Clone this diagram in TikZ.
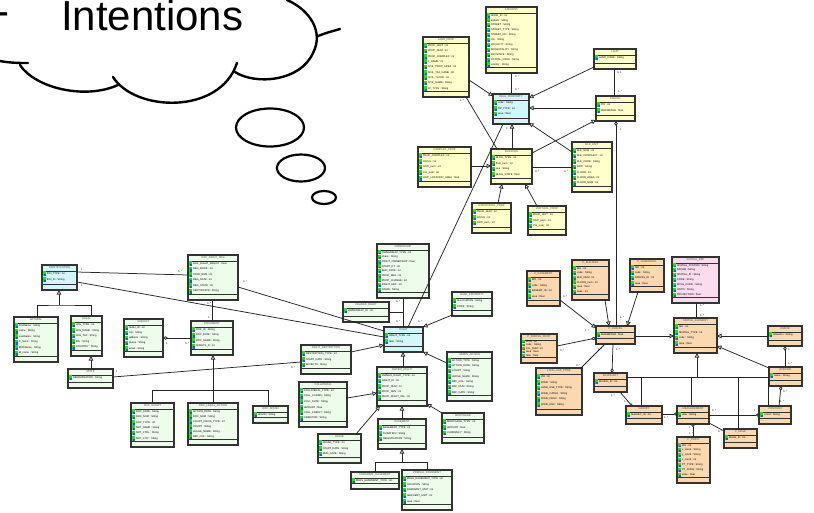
\documentclass[tikz,border=0pt]{standalone}
\usepackage{fontspec}
\setmainfont{Liberation Sans}
\usetikzlibrary{arrows.meta}

\definecolor{ylw}{HTML}{FFFFCC}
\definecolor{cyn}{HTML}{D2F6FA}
\definecolor{grn}{HTML}{EEFCEC}
\definecolor{org}{HTML}{FCD8B0}
\definecolor{pnk}{HTML}{FADCEE}
\definecolor{icongrn}{HTML}{22DD22}
\definecolor{iconblu}{HTML}{2255EE}
\definecolor{edge}{HTML}{333333}

\tikzset{
  umlframe/.style={draw=edge, line width=1.1pt, anchor=north west, inner sep=0pt, outer sep=0pt},
  umlsep/.style={draw=edge, line width=0.8pt},
  umltitle/.style={font=\fontsize{2.7}{3}\selectfont, text=black!70, inner sep=0pt},
  umlattr/.style={font=\fontsize{2.6}{3}\selectfont, anchor=west, inner sep=0pt},
  link/.style={draw=black!85, line width=0.75pt},
  gen/.style={link, -{Triangle[length=4.5pt,width=4.5pt,fill=white]}},
  agg/.style={link, {Diamond[length=5pt,width=3.4pt,fill=white]}-},
  aggend/.style={link, -{Diamond[length=5pt,width=3.4pt,fill=white]}},
  circend/.style={link, -{Circle[length=3pt,fill=white]}},
  circstart/.style={link, {Circle[length=3pt,fill=white]}-},
  mult/.style={font=\fontsize{2.6}{3}\selectfont, inner sep=0pt, anchor=west},
  cloudline/.style={line width=2.4pt, line cap=round},
}

% class box: name, fill, x1, y1, x2, y2, rows, title, attributes
\newcommand\umlbox[9]{%
  \pgfmathsetmacro\bw{#5-#3}%
  \pgfmathsetmacro\bh{#6-#4}%
  \node[umlframe, fill=#2, minimum width=\bw pt, minimum height=\bh pt] (#1) at (#3,#4) {};
  \draw[umlsep] (#3,#4+6) -- (#5,#4+6);
  \draw[umlsep] (#3,#6-6) -- (#5,#6-6);
  \node[umltitle] (#1-t) at ({(#3+#5)/2},#4+3) {#8};
  \pgfmathsetmacro\rh{min((#6-#4-12)/#7,5.6)}%
  \foreach \att [count=\k] in {#9} {
    \pgfmathsetmacro\ry{#4+6+(\k-0.5)*\rh}
    \fill[icongrn] (#3+0.9,\ry-\rh/2+0.4) rectangle (#3+4,\ry+\rh/2-0.4);
    \fill[iconblu] (#3+2.4,\ry+0.2) rectangle (#3+4,\ry+\rh/2-0.4);
    \node[umlattr] (#1-a\k) at (#3+4.8,\ry) {\att};
  }
}

\begin{document}
\begin{tikzpicture}[x=1pt,y=-1pt]
\useasboundingbox (0,0) rectangle (814,512);
\fill[white] (0,0) rectangle (814,512);

% ---------- thought cloud ----------
\draw[cloudline] (0,61) .. controls (10,63) and (20,63) .. (28,63);
\draw[cloudline] (20,65) .. controls (35,88) and (85,100) .. (118,85);
\draw[cloudline] (113,77) .. controls (135,112) and (220,115) .. (237,63);
\draw[cloudline] (235,72) .. controls (255,85) and (300,82) .. (313,53) .. controls (324,32) and (310,10) .. (287,0);
\draw[cloudline] (318,36) .. controls (326,33) .. (340,29);
\draw[line width=2.2pt] (270,127.5) ellipse [x radius=34pt, y radius=19pt];
\draw[line width=2.2pt] (301,168) ellipse [x radius=24pt, y radius=13.5pt];
\draw[line width=2.2pt] (324,197.5) ellipse [x radius=12pt, y radius=6.5pt];
\node[anchor=base west, inner sep=0pt, font=\fontsize{42}{50}\selectfont] (intentions) at (61,30) {Intentions};
\node[anchor=base east, inner sep=0pt, font=\fontsize{42}{50}\selectfont] (dash) at (10,25) {-};

% ---------- property classes ----------
\umlbox{landprop}{ylw}{423}{37}{469}{97}{9}{LAND\_PROP}{PROP\_nEXT : int, PROP\_NUM : int, PROP\_COMPLEX : int, L\_NAME : int, SOIL\_PROP\_AREA : int, SOIL\_TAX\_NAME : int, SOIL\_TxCOD : int, SOIL\_NAME : String, LP\_TYPE : String}
\umlbox{address}{ylw}{486}{7}{537}{73}{11}{ADDRESS}{ADDR\_ID : int, suburb : String, STREET : String, STREET\_TYPE : String, STREET\_NO : String, city : String, LOCALITY : String, MUNICIPALITY : String, PROVINCE : String, POSTAL\_CODE : String, country : String}
\umlbox{realprop}{cyn}{493}{94}{529}{124}{3}{REAL\_PROPERTY}{code : String, RP\_TYPE : int, area : float}
\umlbox{land}{ylw}{594}{49}{636}{69}{1}{LAND}{LAND\_CODE : String}
\umlbox{parcel}{ylw}{596}{96}{635}{121}{2}{PARCEL}{PID : int, PERIMETER : float}
\umlbox{complexprop}{ylw}{418}{147}{471}{187}{5}{COMPLEX\_PROP}{PROP\_COMPLEX : int, LOCAL : int, UNIT\_num : int, LVL\_num : int, UNIT\_LOCATION\_AREA : float}
\umlbox{building}{ylw}{491}{149}{532}{184}{4}{BUILDING}{BLDG\_TYPE : int, floor\_num : int, use : String, BLDG\_STATE : float}
\umlbox{bldunit}{ylw}{572}{142}{612}{192}{7}{BLD\_UNIT}{ELE\_NUM : int, ELE\_CONTRACT : int, ELE\_CODE : String, UNIT : String, FLOOR : int, FLOOR\_AREA : int, FLOOR\_NUM : int}
\umlbox{horizprop}{ylw}{472}{203}{511}{233}{3}{HORIZONTAL\_PROP}{PROP\_NUM : int, LOCAL : int, UNIT\_num : int}
\umlbox{vertprop}{ylw}{528}{206}{566}{235}{3}{VERTICAL\_PROP}{PROP\_UNIT : int, UNIT\_num : int, LVL\_num : int}

% ---------- subjects and documents ----------
\umlbox{ident}{cyn}{42}{265}{77}{290}{2}{IDENTIFICATION}{IDN\_TYPE : int, IDN\_ID : String}
\umlbox{natural}{grn}{14}{317}{58}{362}{6}{NATURAL}{FirstName : String, name : String, LastName : String, F\_name : String, MothName : String, M\_name : String}
\umlbox{legal}{grn}{71}{316}{102}{356}{5}{LEGAL}{LEG\_TYPE : int, LEG\_NAME : String, LEG\_TAX : String, title : String, COUNTRY : String}
\umlbox{subject}{grn}{124}{319}{163}{357}{5}{SUBJECT}{SUBJ\_ID : int, city : String, address : String, phone : String, email : String}
\umlbox{state}{grn}{68}{369}{113}{388}{1}{STATE}{DENOMINATION : String}
\umlbox{docreg}{grn}{188}{255}{238}{300}{6}{DOC\_RIGHT\_REG}{DOC\_RIGHT\_REGIST : float, REG\_BOOK : int, PAGE\_NUM : int, REG\_DATE : int, REG\_STATE : int, CERTIFICATE : String}
\umlbox{document}{grn}{191}{321}{233}{355}{4}{DOCUMENT}{DOC\_ID : String, DOC\_DATE : String, DOC\_NAME : String, SHEETS\_N : int}
\umlbox{docscript}{grn}{131}{403}{174}{447}{6}{DOC\_SCRIPT}{DOC\_DATE : String, DOC\_NUM : String, DOC\_TYPE : int, NOT\_NAME : String, NOT\_CTRL : String, NOT\_CITY : String}
\umlbox{doclegal}{grn}{188}{403}{238}{445}{6}{DOC\_LEGAL\_ACTION}{ACTION\_DATE : String, DOC\_NUM : String, COURT\_DECIS\_TYPE : int, COURT : String, JUDGE\_NAME : String, REF\_COL : String}
\umlbox{docadmin}{grn}{253}{406}{288}{423}{1}{DOC\_ADMIN}{ADMIN : String}

% ---------- rights ----------
\umlbox{ownership}{grn}{377}{244}{429}{298}{9}{OWNERSHIP}{OWNERSHIP\_TYPE : int, share : String, RIGHT\_OWNERSHIP : float, START\_DT : int, END\_DATE : int, PROP\_REG : int, PROP\_CHANGE : int, RIGHT\_REF : int, STATE : String}
\umlbox{changeright}{grn}{343}{302}{389}{322}{1}{CHANGE\_RIGHT}{OWNERSHIP\_ID : int}
\umlbox{baseprop}{grn}{452}{292}{492}{316}{2}{BASE\_PROPERTY}{ALLOCATION : String, CODE : String}
\umlbox{rgt}{cyn}{384}{327}{423}{352}{2}{RIGHT}{RIGHT\_TYPE : int, ratio : String}
\umlbox{restriction}{grn}{301}{345}{351}{374}{3}{RIGHT\_RESTRICTION}{RESTRICTION\_TYPE : int, START\_DATE : String, EFFECTS : String}
\umlbox{ownerright}{grn}{377}{367}{427}{406}{5}{OWNER\_RIGHT}{OWNER\_RIGHT\_TYPE : int, RIGHT\_ID : int, PROP\_NUM : int, PROP\_DEN : int, PROP\_RIGHT\_VAL : int}
\umlbox{adminaction}{grn}{447}{352}{492}{401}{7}{ADMIN\_ACTION}{ACTION\_TYPE : String, ACTION\_DATE : String, COURT : String, JUDGE\_NAME : String, REF\_COL : String, REF\_NUM : String, REF\_DATE : String}
\umlbox{collateral}{grn}{299}{382}{347}{427}{6}{COLLATERAL}{COLLATERAL\_TYPE : int, COLL\_CLAIMS : String, COLL\_DATE : String, AMOUNT : float, COLL\_CREDIT : String, CREDITOR : String}
\umlbox{lease}{grn}{318}{434}{361}{463}{3}{LEASE}{LEASE\_TYPE : int, START\_DATE : String, END\_DATE : String}
\umlbox{easement}{grn}{378}{419}{426}{449}{3}{EASEMENT}{EASEMENT\_TYPE : int, DURATION : String, REGISTRATION : String}
\umlbox{mortgage}{grn}{442}{413}{484}{443}{3}{MORTGAGE}{MORTGAGE\_TYPE : int, AMOUNT : float, CURRENCY : String}
\umlbox{perseasement}{grn}{351}{472}{399}{489}{1}{PERSONAL\_EASEMENT}{PERS\_EASEMENT\_TYPE : int}
\umlbox{predeasement}{grn}{402}{470}{452}{510}{5}{PREDIAL\_EASEMENT}{PRED\_EASEMENT\_TYPE : int, LOCATION : String, DOMINANT\_UNIT : int, SERVIENT\_UNIT : int, area : float}

% ---------- spatial classes ----------
\umlbox{peasement}{org}{527}{271}{560}{306}{4}{P\_EASEMENT}{EID : int, code : String, EASEMT\_ID : int, area : float}
\umlbox{pbuilding}{org}{572}{260}{609}{300}{6}{P\_BUILDING}{BID : int, code : String, BLD\_NUM : int, FLOOR\_num : int, area : float, state : int}
\umlbox{psubparcel}{org}{630}{259}{664}{292}{4}{P\_SUBPARCEL}{SID : int, code : String, PARCEL\_ID : int, area : float}
\umlbox{pparcel}{org}{596}{326}{635}{344}{1}{P\_PARCEL}{PERIMETER : float}
\umlbox{pparcelprop}{org}{521}{334}{557}{363}{5}{P\_PARCEL\_PROP}{PPID : int, code : String, LVL\_NUM : int, area : float, ratio : float}
\umlbox{landuse}{org}{536}{368}{582}{415}{6}{LAND\_USE\_ZONE}{ZID : int, ZONE : String, LAND\_USE\_TYPE : String, ZONE\_CATEG : String, ZONE\_DESC : String, ZONE\_REF : String}
\umlbox{boundary}{org}{594}{373}{627}{392}{1}{BOUNDARY}{BOUND\_ID : int}
\umlbox{spatialref}{pnk}{672}{257}{719}{303}{7}{SPATIAL\_REF}{SPATIAL\_SYSTEM : String, DATUM : String, SPATIAL\_ID : String, CODE : String, EPSG\_CODE : String, UNITS : String, PROJECTION : float}
\umlbox{spatialel}{org}{674}{318}{717}{353}{4}{SPATIAL\_ELEMENT}{SID : int, SPATIAL\_TYPE : int, code : String, area : float}
\umlbox{curve}{org}{768}{326}{802}{346}{1}{CURVE}{LENGTH : String}
\umlbox{border}{org}{769}{367}{802}{386}{1}{BORDER}{name : String}
\umlbox{survey}{org}{626}{406}{662}{424}{1}{SURVEY}{SURVEY\_ID : int}
\umlbox{measurement}{org}{677}{406}{709}{424}{1}{MEASUREMENT}{date : String}
\umlbox{position}{org}{759}{406}{791}{424}{1}{POSITION}{coord : String}
\umlbox{pedge}{org}{724}{429}{757}{448}{1}{P\_EDGE}{EDGE\_ID : int}
\umlbox{ppoint}{org}{677}{437}{710}{483}{7}{P\_POINT}{PID : int, x\_coord : String, y\_coord : String, z\_coord : int, PT\_TYPE : String, PT\_CODE : String, state : float}

% ---------- connectors: properties ----------
\draw[link] ([shift={(25,66)}]address.north west) -- ([shift={(18,0)}]realprop.north west);
\draw[gen] ([shift={(46,43)}]landprop.north west) -- ([shift={(0,2)}]realprop.north west);
\draw[gen] ([shift={(0,18)}]land.north west) -- ([shift={(36,4)}]realprop.north west);
\draw[gen] ([shift={(0,12)}]parcel.north west) -- ([shift={(36,14)}]realprop.north west);
\draw[link] ([shift={(20,20)}]land.north west) -- ([shift={(18,0)}]parcel.north west);
\draw[gen] ([shift={(21,0)}]building.north west) -- ([shift={(19,30)}]realprop.north west);
\draw[link] ([shift={(43,60)}]landprop.north west) -- ([shift={(6,0)}]building.north west);
\draw[gen] ([shift={(0,10)}]bldunit.north west) -- ([shift={(36,29)}]realprop.north west);
\draw[gen] ([shift={(41,4)}]building.north west) -- ([shift={(0,24)}]parcel.north west);
\draw[link] ([shift={(41,18)}]building.north west) -- ([shift={(0,25)}]bldunit.north west);
\draw[gen] ([shift={(53,19)}]complexprop.north west) -- ([shift={(0,17)}]building.north west);
\draw[gen] ([shift={(26,0)}]horizprop.north west) -- ([shift={(11,35)}]building.north west);
\draw[gen] ([shift={(9,0)}]vertprop.north west) -- ([shift={(34,35)}]building.north west);
\draw[link] ([shift={(10,30)}]realprop.north west) -- ([shift={(24,0)}]rgt.north west);
\draw[agg] ([shift={(20,25)}]parcel.north west) -- ([shift={(20,0)}]pparcel.north west);

% ---------- connectors: subjects and documents ----------
\coordinate (idjoin) at (59,305);
\draw[link] ([shift={(23,0)}]natural.north west) |- (idjoin) -| ([shift={(20,0)}]legal.north west);
\draw[gen] (idjoin) -- ([shift={(17,25)}]ident.north west);
\draw[gen] ([shift={(23,0)}]state.north west) -- ([shift={(20,40)}]legal.north west);
\draw[link] ([shift={(35,7)}]ident.north west) -- ([shift={(0,20)}]docreg.north west);
\draw[link] ([shift={(35,17)}]ident.north west) -- ([shift={(0,10)}]rgt.north west);
\draw[link] ([shift={(50,32)}]docreg.north west) -- ([shift={(0,4)}]rgt.north west);
\draw[link] ([shift={(45,8)}]state.north west) -- ([shift={(0,17)}]restriction.north west);
\draw[agg] ([shift={(39,19)}]subject.north west) -- ([shift={(0,17)}]document.north west);
\draw[link] ([shift={(24,45)}]docreg.north west) -- ([shift={(21,0)}]document.north west);
\coordinate (docjoin) at (213,390);
\draw[gen] (docjoin) -- ([shift={(22,34)}]document.north west);
\draw[link] ([shift={(21,0)}]docscript.north west) |- ([shift={(15,-16)}]docadmin.north west) -- ([shift={(15,0)}]docadmin.north west);
\draw[link] ([shift={(25,0)}]doclegal.north west) -- (docjoin);

% ---------- connectors: rights ----------
\draw[link] ([shift={(26,54)}]ownership.north west) -- ([shift={(19,0)}]rgt.north west);
\draw[link] (changeright.east) -- (changeright.east -| ownership.south);
\draw[gen] ([shift={(0,23)}]baseprop.north west) -- ([shift={(39,0)}]rgt.north west);
\draw[gen] ([shift={(50,7)}]restriction.north west) -- ([shift={(0,18)}]rgt.north west);
\draw[gen] ([shift={(26,0)}]ownerright.north west) -- ([shift={(19,25)}]rgt.north west);
\draw[gen] ([shift={(0,11)}]adminaction.north west) -- ([shift={(39,25)}]rgt.north west);
\draw[gen] ([shift={(48,16)}]collateral.north west) -- ([shift={(0,26)}]ownerright.north west);
\draw[gen] ([shift={(38,0)}]lease.north west) -- ([shift={(3,39)}]ownerright.north west);
\draw[gen] ([shift={(24,0)}]easement.north west) -- ([shift={(25,39)}]ownerright.north west);
\draw[gen] (mortgage.north west) -- ([shift={(50,37)}]ownerright.north west);
\coordinate (easjoin) at (402,462);
\draw[gen] (easjoin) -- ([shift={(24,30)}]easement.north west);
\draw[link] ([shift={(24,0)}]perseasement.north west) |- ([shift={(25,-8)}]predeasement.north west) -- ([shift={(25,0)}]predeasement.north west);

% ---------- connectors: spatial ----------
\draw[gen] ([shift={(33,29)}]peasement.north west) -- ([shift={(0,2)}]pparcel.north west);
\draw[gen] ([shift={(33,40)}]pbuilding.north west) -- ([shift={(13,0)}]pparcel.north west);
\draw[gen] ([shift={(8,33)}]psubparcel.north west) -- ([shift={(31,0)}]pparcel.north west);
\draw[aggend] ([shift={(36,12)}]pparcelprop.north west) -- ([shift={(0,12)}]pparcel.north west);
\draw[link] ([shift={(9,18)}]pparcel.north west) -- ([shift={(44,1)}]landuse.north west);
\draw[aggend] ([shift={(17,18)}]pparcel.north west) -- ([shift={(18,0)}]boundary.north west);
\draw[gen] ([shift={(39,10)}]pparcel.north west) -- ([shift={(0,18)}]spatialel.north west);
\draw[link] ([shift={(24,46)}]spatialref.north west) -- ([shift={(22,0)}]spatialel.north west);
\draw[gen] ([shift={(0,10)}]curve.north west) -- ([shift={(43,18)}]spatialel.north west);
\draw[agg] ([shift={(17,20)}]curve.north west) -- ([shift={(16,0)}]border.north west);
\draw[gen] ([shift={(0,1)}]border.north west) -- ([shift={(43,28)}]spatialel.north west);
\coordinate (spjoin) at (697,377);
\draw[gen] (spjoin) -- ([shift={(23,35)}]spatialel.north west);
\draw[link] ([shift={(0,4)}]boundary.north east) -- ([shift={(0,10)}]border.north west);
\draw[link] ([shift={(15,-29)}]survey.north west) -- ([shift={(15,0)}]survey.north west);
\draw[link] ([shift={(14,-29)}]measurement.north west) -- ([shift={(14,0)}]measurement.north west);
\draw[link] ([shift={(14,-52)}]pedge.north west) -- ([shift={(14,0)}]pedge.north west);
\draw[link] ([shift={(9,-29)}]position.north west) -- ([shift={(9,0)}]position.north west);
\draw[circend] ([shift={(26,19)}]boundary.north west) -- ([shift={(6,0)}]survey.north west);
\draw[circend] ([shift={(36,8)}]survey.north west) -- ([shift={(0,8)}]measurement.north west);
\draw[circend] ([shift={(32,9)}]measurement.north west) -- ([shift={(0,9)}]position.north west);
\draw[circstart] ([shift={(16,18)}]measurement.north west) -- ([shift={(16,0)}]ppoint.north west);
\draw[link] ([shift={(32,17)}]measurement.north west) -- ([shift={(0,2)}]pedge.north west);
\draw[agg] ([shift={(12,19)}]border.north west) -- ([shift={(20,0)}]position.north west);

% ---------- multiplicities ----------
\node[mult] (m1) at (515,77) {0..*};
\node[mult] (m2) at (515,90) {0..*};
\node[mult] (m3) at (617,73) {0..1};
\node[mult] (m4) at (618,92) {1..*};
\node[mult] (m5) at (620,130) {1};
\node[mult] (m6) at (620,318) {1..*};
\node[mult] (m7) at (460,101) {1..*};
\node[mult] (m8) at (583,127) {1};
\node[mult] (m9) at (535,172) {0..*};
\node[mult] (m10) at (564,172) {0..*};
\node[mult] (m11) at (81,270) {1};
\node[mult] (m12) at (178,272) {0..*};
\node[mult] (m13) at (81,286) {1};
\node[mult] (m14) at (243,282) {0..*};
\node[mult] (m15) at (116,372) {1};
\node[mult] (m16) at (291,368) {0..*};
\node[mult] (m17) at (166,344) {1};
\node[mult] (m18) at (185,344) {0..*};
\node[mult] (m19) at (207,304) {0..*};
\node[mult] (m20) at (208,318) {1};
\node[mult] (m21) at (396,302) {0..*};
\node[mult] (m22) at (396,322) {0..*};
\node[mult] (m23) at (418,322) {0..*};
\node[mult] (m24) at (563,297) {0..*};
\node[mult] (m25) at (585,331) {1..*};
\node[mult] (m26) at (560,351) {0..*};
\node[mult] (m27) at (598,350) {1..*};
\node[mult] (m28) at (576,366) {0..*};
\node[mult] (m29) at (616,350) {1..*};
\node[mult] (m30) at (700,306) {1..*};
\node[mult] (m31) at (700,316) {1..*};
\node[mult] (m32) at (788,350) {1};
\node[mult] (m33) at (788,364) {1..*};
\node[mult] (m34) at (611,396) {1..*};
\node[mult] (m35) at (624,402) {1..*};
\node[mult] (m36) at (664,418) {1..*};
\node[mult] (m37) at (712,411) {0..*};
\node[mult] (m38) at (754,411) {1};
\node[mult] (m39) at (689,428) {1};
\node[mult] (m40) at (689,434) {1..*};
\node[mult] (m41) at (718,432) {0..*};
\node[mult] (m42) at (783,392) {0..*};
\node[mult] (m43) at (780,402) {1..*};
\node[mult] (m44) at (506,129) {1};
\end{tikzpicture}
\end{document}
